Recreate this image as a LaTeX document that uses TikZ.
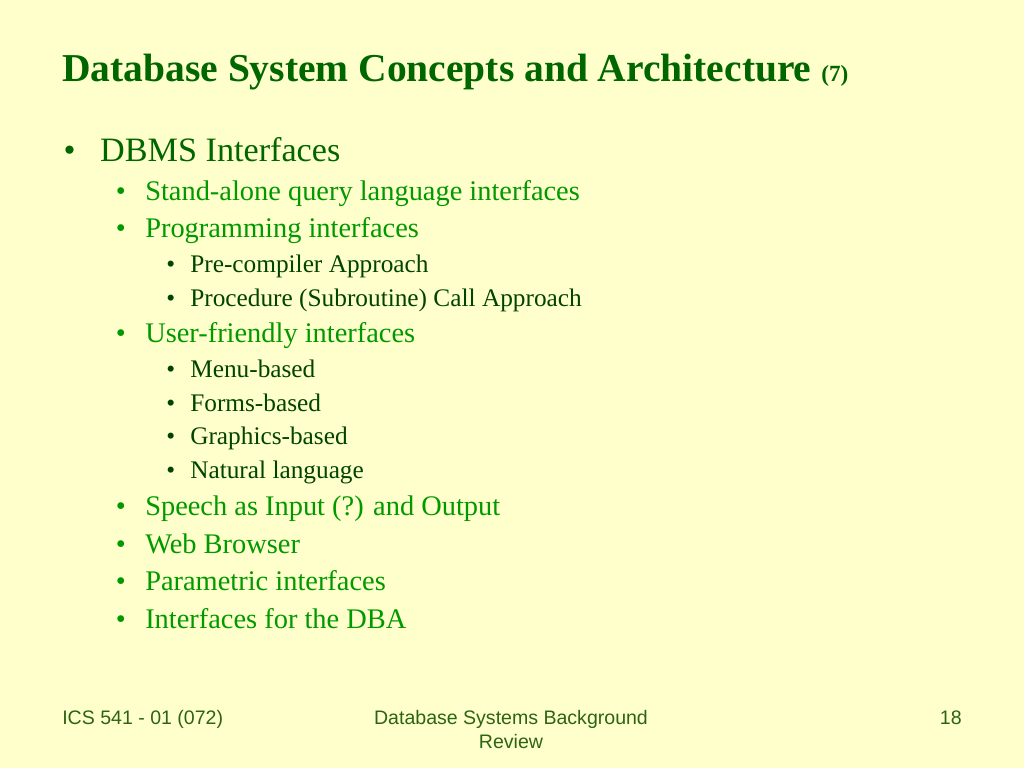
\documentclass[tikz,border=0pt]{standalone}
\usepackage{fontspec}
\setmainfont{Liberation Serif}
\setsansfont{Liberation Sans}
\usepackage{xcolor}
\usetikzlibrary{positioning}
\definecolor{slidebg}{RGB}{255,255,204}
\definecolor{titlegreen}{RGB}{0,102,0}
\definecolor{itemgreen}{RGB}{0,153,0}
\definecolor{subgreen}{RGB}{0,68,0}
\definecolor{footgreen}{RGB}{45,100,20}
\newcommand{\bul}[1]{\llap{\makebox[#1][l]{\textbullet}}}

\begin{document}
\begin{tikzpicture}[x=0.025cm,y=-0.025cm]
	\fill[slidebg] (0,0) rectangle (1024,768);
	\useasboundingbox (0,0) rectangle (1024,768);
	\node[anchor=base west,inner sep=0,text=titlegreen,font=\fontsize{28.1}{32}\selectfont\bfseries] (title) at (62,82) {Database System Concepts and Architecture {\fontsize{16.5}{17}\selectfont(7)}};
	\begin{scope}[every node/.style={anchor=base west,inner sep=0}]
		\node[text=titlegreen,font=\fontsize{24.3}{26}\selectfont] (l1) at (100,162) {\bul{26pt}DBMS Interfaces};
	\end{scope}
	\begin{scope}[every node/.style={anchor=base west,inner sep=0,text=itemgreen,font=\fontsize{20.2}{22}\selectfont}]
		\node (s1) at (145,200) {\bul{21pt}Stand-alone query language interfaces};
		\node (s2) at (145,237.5) {\bul{21pt}Programming interfaces};
		\node (s3) at (145,342) {\bul{21pt}User-friendly interfaces};
		\node (s4) at (145,515) {\bul{21pt}Speech as Input (?) and Output};
		\node (s5) at (145,553) {\bul{21pt}Web Browser};
		\node (s6) at (145,590) {\bul{21pt}Parametric interfaces};
		\node (s7) at (145,628) {\bul{21pt}Interfaces for the DBA};
	\end{scope}
	\begin{scope}[every node/.style={anchor=base west,inner sep=0,text=subgreen,font=\fontsize{18}{19}\selectfont}]
		\node (p1) at (190,272.5) {\bul{17pt}Pre-compiler Approach};
		\node (p2) at (190,306) {\bul{17pt}Procedure (Subroutine) Call Approach};
		\node (u1) at (190,377.5) {\bul{17pt}Menu-based};
		\node (u2) at (190,411.5) {\bul{17pt}Forms-based};
		\node (u3) at (190,444.5) {\bul{17pt}Graphics-based};
		\node (u4) at (190,478.5) {\bul{17pt}Natural language};
	\end{scope}
	\begin{scope}[every node/.style={inner sep=0,text=footgreen,font=\sffamily\fontsize{13.9}{17}\selectfont}]
		\node[anchor=base west] (f1) at (62,724) {ICS 541 - 01 (072)};
		\node[anchor=base,align=center] (f2) at (511,748) {Database Systems Background\\Review};
		\node[anchor=base east] (f3) at (962,724) {18};
	\end{scope}
\end{tikzpicture}
\end{document}
